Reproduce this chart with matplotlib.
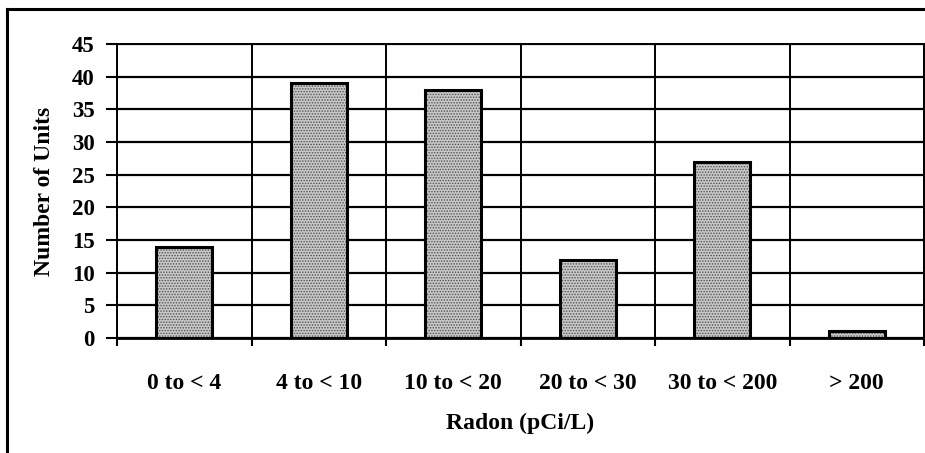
import numpy as np
import matplotlib.pyplot as plt
from matplotlib.lines import Line2D

categories = ['0 to < 4', '4 to < 10', '10 to < 20', '20 to < 30', '30 to < 200', '> 200']
units = [14, 39, 38, 12, 27, 1]
yticks = [0, 5, 10, 15, 20, 25, 30, 35, 40, 45]

plt.rcParams['font.family'] = ['Liberation Serif', 'DejaVu Serif']
plt.rcParams['font.weight'] = 'bold'
plt.rcParams['hatch.linewidth'] = 0.7

fig = plt.figure(figsize=(9.25, 4.53), dpi=100)
ax = fig.add_axes([117/925, 1 - 338/453, 807/925, 294/453])

x = np.arange(len(categories))
# stippled fill, then the heavy outline on top
ax.bar(x, units, width=0.42, color='#c8c8c8', edgecolor='#505050',
       hatch='......', linewidth=0, zorder=3)
ax.bar(x, units, width=0.42, fill=False, edgecolor='black', linewidth=2.2, zorder=4)

ax.set_xlim(-0.5, len(categories) - 0.5)
ax.set_ylim(0, 45)
ax.set_yticks(yticks)
ax.set_xticks(x)
ax.set_xticklabels(categories, fontsize=17, fontweight='bold')
ax.set_xticks(np.arange(-0.5, len(categories)), minor=True)
ax.tick_params(axis='x', which='major', length=0, pad=25)
ax.tick_params(axis='x', which='minor', length=6, width=1.5, direction='out')
ax.tick_params(axis='y', labelsize=16.5, length=8, width=1.5, pad=8)
for lbl in ax.get_yticklabels():
    lbl.set_fontweight('bold')

ax.grid(axis='y', which='major', color='black', linewidth=1.6, zorder=0)
ax.grid(axis='x', which='minor', color='black', linewidth=1.4, zorder=0)
for s in ax.spines.values():
    s.set_linewidth(1.4)
ax.spines['bottom'].set_linewidth(2.0)

ax.set_ylabel('Number of Units', fontsize=17, fontweight='bold', labelpad=12)
ax.set_xlabel('Radon (pCi/L)', fontsize=17, fontweight='bold', labelpad=14)

# outer chart border (left and top edges)
fig.add_artist(Line2D([7/925, 7/925], [0, 1 - 9/453], color='black', linewidth=2.2))
fig.add_artist(Line2D([7/925, 1], [1 - 9/453, 1 - 9/453], color='black', linewidth=2.2))

fig.savefig('out.png', dpi=100)
